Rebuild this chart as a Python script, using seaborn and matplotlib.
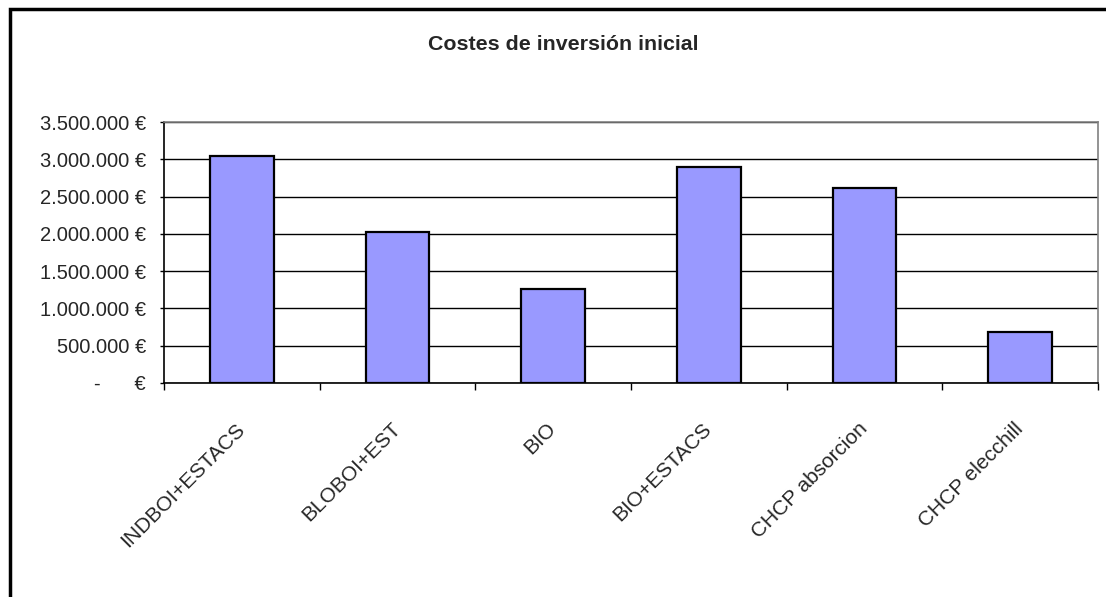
import matplotlib
matplotlib.use("Agg")
import matplotlib.pyplot as plt
import seaborn as sns
from matplotlib.patches import Rectangle

# Data
categories = ["INDBOI+ESTACS", "BLOBOI+EST", "BIO", "BIO+ESTACS", "CHCP absorcion", "CHCP elecchill"]
costs = [3050000, 2025000, 1260000, 2900000, 2610000, 690000]
ytick_values = [0, 500000, 1000000, 1500000, 2000000, 2500000, 3000000, 3500000]
ytick_labels = ["-      €", "500.000 €", "1.000.000 €", "1.500.000 €", "2.000.000 €",
                "2.500.000 €", "3.000.000 €", "3.500.000 €"]
title = "Costes de inversión inicial"

sns.set_style("white")
plt.rcParams['font.family'] = ['Liberation Sans', 'DejaVu Sans']

W, H = 1106, 597
fig = plt.figure(figsize=(W / 100, H / 100), dpi=100)
ax = fig.add_axes([164 / W, 1 - 383 / H, (1098 - 164) / W, (383 - 122) / H])

sns.barplot(x=categories, y=costs, color="#9999FF", saturation=1, edgecolor="black",
            linewidth=1.6, width=0.41, ax=ax, zorder=3)

ax.set_xlim(-0.5, len(categories) - 0.5)
ax.set_ylim(0, 3500000)
ax.set_yticks(ytick_values)
ax.set_yticklabels(ytick_labels, fontsize=14.5)
ax.yaxis.grid(True, color="black", linewidth=1)
ax.set_axisbelow(True)
ax.tick_params(axis="y", length=3, width=1, color="black", pad=10, left=True)

# category labels at bar centres, tick marks between categories
ax.set_xticks(range(len(categories)))
ax.set_xticklabels(categories, rotation=45, ha="right", va="center",
                   rotation_mode="anchor", fontsize=15)
ax.tick_params(axis="x", which="major", length=0, pad=31)
ax.set_xticks([i - 0.5 for i in range(len(categories) + 1)], minor=True)
ax.tick_params(axis="x", which="minor", length=5, width=1, color="black", bottom=True)

ax.set_xlabel("")
ax.set_ylabel("")
for side in ["left", "bottom"]:
    ax.spines[side].set_color("black")
    ax.spines[side].set_linewidth(1.2)
for side in ["top", "right"]:
    ax.spines[side].set_visible(True)
    ax.spines[side].set_color("#808080")
    ax.spines[side].set_linewidth(1.2)

fig.text(563 / W, 1 - 44 / H, title, ha="center", va="center",
         fontsize=15.4, fontweight="bold")

# outer chart frame
fig.patches.append(Rectangle((9.5 / W, -0.05), 1.2, 1 - 9 / H + 0.05,
                             transform=fig.transFigure, fill=False,
                             edgecolor="black", linewidth=2.5))

fig.savefig("out.png", dpi=100)
